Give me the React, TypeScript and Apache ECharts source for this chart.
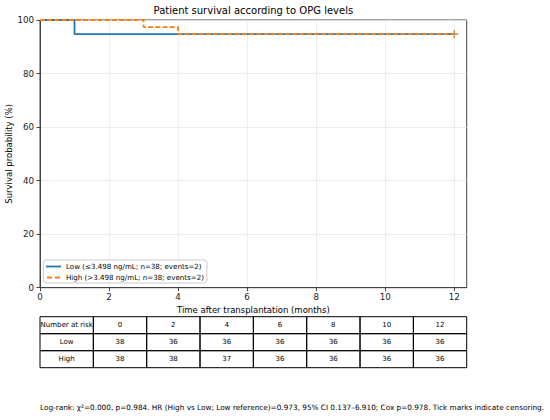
import React, { useEffect, useRef } from "react";
import * as echarts from "echarts";

const lowTimes = [0, 1, 12];
const lowSurv = [100, 94.74, 94.74];
const highTimes = [0, 3, 4, 12];
const highSurv = [100, 97.37, 94.74, 94.74];
const lowCensor = [[12, 94.74]];
const highCensor = [[12, 94.74]];
const xTicks = [0, 2, 4, 6, 8, 10, 12];
const riskTimes = ["0", "2", "4", "6", "8", "10", "12"];
const lowAtRisk = [38, 36, 36, 36, 36, 36, 36];
const highAtRisk = [38, 38, 37, 36, 36, 36, 36];
const lowName = "Low (≤3.498 ng/mL; n=38; events=2)";
const highName = "High (>3.498 ng/mL; n=38; events=2)";
const footer =
  "Log-rank: χ²=0.000, p=0.984. HR (High vs Low; Low reference)=0.973, 95% CI 0.137–6.910; Cox p=0.978. Tick marks indicate censoring.";

const FONT = "DejaVu Sans";
const BLUE = "#1f77b4";
const ORANGE = "#ff7f0e";
const PLUS = "path://M-0.12,-1H0.12V-0.12H1V0.12H0.12V1H-0.12V0.12H-1V-0.12H-0.12Z";
const SOLID_ICON = "path://M0,0H15V1.8H0Z";
const DASH_ICON = "path://M0,0H5V1.8H0Z M8,0H13V1.8H8Z";

export default function App() {
  const ref = useRef<HTMLDivElement>(null);
  useEffect(() => {
    const chart = echarts.init(ref.current!, null, { renderer: "svg" });
    const L = 40, R = 466.7, T = 20, B = 287.7;
    const tableTop = 316.7, rowH = 17, colW = (R - L) / 8;
    const rows = [
      ["Number at risk", ...riskTimes],
      ["Low", ...lowAtRisk.map(String)],
      ["High", ...highAtRisk.map(String)],
    ];
    const graphics: any[] = [];
    rows.forEach((row, r) => {
      row.forEach((cell, c) => {
        graphics.push({
          type: "rect",
          shape: { x: L + c * colW, y: tableTop + r * rowH, width: colW, height: rowH },
          style: { fill: "none", stroke: "#000", lineWidth: 1 },
        });
        graphics.push({
          type: "text",
          x: L + c * colW + colW / 2,
          y: tableTop + r * rowH + rowH / 2,
          style: {
            text: cell,
            fontFamily: FONT,
            fontSize: 7,
            fill: "#000",
            align: "center",
            verticalAlign: "middle",
          },
        });
      });
    });
    graphics.push({
      type: "text",
      x: 40,
      y: 407.7,
      style: { text: footer, fontFamily: FONT, fontSize: 7.3, fill: "#000", verticalAlign: "middle" },
    });

    chart.setOption({
      animation: false,
      title: {
        text: "Patient survival according to OPG levels",
        left: (L + R) / 2,
        textAlign: "center",
        top: 5,
        padding: 0,
        textStyle: { fontFamily: FONT, fontSize: 10, fontWeight: "normal", color: "#000" },
      },
      grid: {
        left: L,
        top: T,
        right: 550 - R,
        bottom: 420 - B,
        outerBoundsMode: "none",
        containLabel: false,
        show: true,
        borderColor: "#444",
        borderWidth: 1,
        backgroundColor: "transparent",
      },
      legend: {
        data: [
          { name: lowName, icon: SOLID_ICON },
          { name: highName, icon: DASH_ICON },
        ],
        orient: "vertical",
        left: 43.3,
        top: 260,
        itemWidth: 15,
        itemHeight: 1.8,
        itemGap: 2,
        padding: [2, 3, 1, 2.7],
        borderColor: "#cccccc",
        borderWidth: 1,
        borderRadius: 3,
        backgroundColor: "rgba(255,255,255,0.8)",
        textStyle: { fontFamily: FONT, fontSize: 7.1, lineHeight: 9, color: "#000" },
      },
      xAxis: {
        type: "value",
        min: 0,
        max: 12.36,
        interval: 2,
        name: "Time after transplantation (months)",
        nameLocation: "middle",
        nameGap: 17.5,
        nameMoveOverlap: false,
        nameTextStyle: { fontFamily: FONT, fontSize: 8.5, color: "#000" },
        axisLine: { show: true, lineStyle: { color: "#444", width: 1 } },
        axisTick: { show: true, inside: false, length: 3.5, lineStyle: { color: "#444" }, customValues: xTicks },
        axisLabel: { fontFamily: FONT, fontSize: 8.7, color: "#222", margin: 5, customValues: xTicks },
        splitLine: { show: true, lineStyle: { color: "#e9e9e9", width: 0.8 } },
      },
      yAxis: {
        type: "value",
        min: 0,
        max: 100,
        interval: 20,
        name: "Survival probability (%)",
        nameLocation: "middle",
        nameGap: 27,
        nameMoveOverlap: false,
        nameRotate: 90,
        nameTextStyle: { fontFamily: FONT, fontSize: 8.5, color: "#000" },
        axisLine: { show: true, lineStyle: { color: "#444", width: 1 } },
        axisTick: { show: true, inside: false, length: 3.5, lineStyle: { color: "#444" } },
        axisLabel: { fontFamily: FONT, fontSize: 8.7, color: "#222", margin: 6 },
        splitLine: { show: true, lineStyle: { color: "#e9e9e9", width: 0.8 } },
      },
      series: [
        {
          name: lowName,
          type: "line",
          step: "end",
          symbol: "none",
          color: BLUE,
          lineStyle: { color: BLUE, width: 1.8 },
          data: lowTimes.map((t, i) => [t, lowSurv[i]]),
          z: 3,
        },
        {
          name: "lowCensor",
          type: "scatter",
          symbol: PLUS,
          symbolSize: 8,
          itemStyle: { color: BLUE },
          data: lowCensor,
          z: 3,
        },
        {
          name: highName,
          type: "line",
          step: "end",
          symbol: "none",
          color: ORANGE,
          lineStyle: { color: ORANGE, width: 1.8, type: [5, 2.2] },
          data: highTimes.map((t, i) => [t, highSurv[i]]),
          z: 4,
        },
        {
          name: "highCensor",
          type: "scatter",
          symbol: PLUS,
          symbolSize: 8,
          itemStyle: { color: ORANGE },
          data: highCensor,
          z: 4,
        },
      ],
      graphic: graphics,
    });
    return () => chart.dispose();
  }, []);
  return (
    <div
      ref={ref}
      style={{ position: "absolute", left: 0, top: 0, width: 550, height: 420, background: "#fff" }}
    />
  );
}
